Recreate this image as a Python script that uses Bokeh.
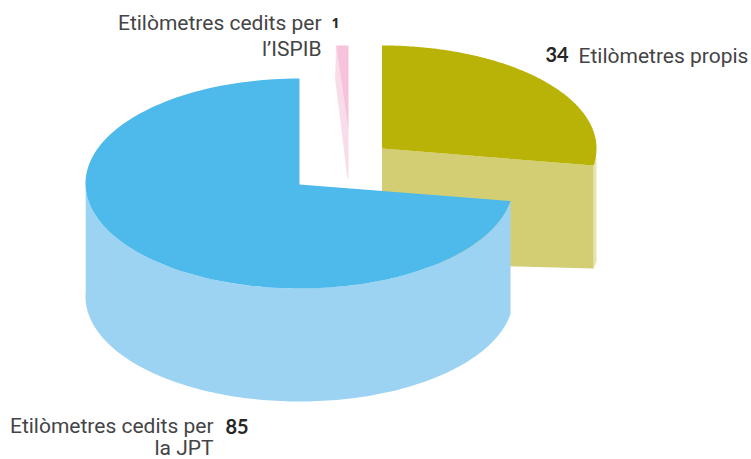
import math
from bokeh.plotting import figure
from bokeh.core.properties import value
from bokeh.embed import file_html
from bokeh.resources import INLINE

categories = ["Etilòmetres propis", "Etilòmetres cedits per la JPT", "Etilòmetres cedits per l’ISPIB"]
values = [34, 85, 1]
value_labels = ["34", "85", "1"]

W, H = 751, 459
p = figure(width=W, height=H, x_range=(0, W), y_range=(H, 0),
           output_backend="svg", toolbar_location=None, min_border=0,
           outline_line_color=None, background_fill_color="white", border_fill_color="white")
p.axis.visible = False
p.grid.visible = False

total = sum(values)
a0 = 0.0
a1 = a0 + values[0] / total * 360
a2 = a1 + values[1] / total * 360
a3 = a2 + values[2] / total * 360


def warp(t):
    return t - 2.5 * math.sin(math.radians(t))


def pt(cx, cy, rx, ry, t):
    f = math.radians(warp(t))
    return cx + rx * math.sin(f), cy - ry * math.cos(f)


def arc(cx, cy, rx, ry, t0, t1, n=140):
    pts = [pt(cx, cy, rx, ry, t0 + (t1 - t0) * i / n) for i in range(n + 1)]
    return [q[0] for q in pts], [q[1] for q in pts]


def poly(xs, ys, color):
    p.patch(xs, ys, fill_color=color, line_color=None)


# --- yellow slice (34)
Y = dict(cx=381.5, cy=148, rx=214.5, ry=103)
yx, yy = arc(Y["cx"], Y["cy"], Y["rx"], Y["ry"], a0, a1)
xend, yend = yx[-1], yy[-1]
xmax = max(yx)
poly([xend, xmax, xmax, xend], [yend - 8, yend - 8, yend + 96, yend + 103], "#E6E3AC")
poly([Y["cx"], xend, xend, Y["cx"]], [Y["cy"], yend, yend + 103, Y["cy"] + 114], "#D3CE73")
poly([Y["cx"]] + yx, [Y["cy"]] + yy, "#B8B306")

# --- pink slice (1)
K = dict(cx=348, cy=130, rx=248, ry=85)
kx, ky = arc(K["cx"], K["cy"], K["rx"], K["ry"], a2, a3, n=6)
poly([kx[0], kx[0] - 1, K["cx"] - 1, K["cx"], K["cx"]], [ky[0], ky[0] + 33, K["cy"] + 48, K["cy"] + 48, K["cy"]], "#F9DCE9")
poly([K["cx"]] + kx, [K["cy"]] + ky, "#F6C3DB")

# --- blue slice (85); the pink sliver is exploded, so the blue closes the circle
B = dict(cx=299, cy=183, rx=214, ry=105)
DEPTH = 113
bx, by = arc(B["cx"], B["cy"], B["rx"], B["ry"], a1, a3)
wx, wy = arc(B["cx"], B["cy"], B["rx"], B["ry"], a1, 270)
poly(wx + wx[::-1], wy + [q + DEPTH for q in wy[::-1]], "#9DD3F2")
poly([B["cx"]] + bx, [B["cy"] + 1] + by, "#4EBAEB")

# --- labels
LIGHT = "#444446"
DARK = "#262626"
SIZE = 21


def label(x, y, t, size, color, align="right", font="Roboto", style="normal"):
    p.text([x], [y], text=[t], text_font=value(font), text_font_size=f"{size}px",
           text_color=color, text_align=align, text_baseline="alphabetic", text_font_style=style)


label(321, 22, "Etilòmetres cedits per", SIZE, LIGHT)
label(321, 48, "l’ISPIB", SIZE, LIGHT)
label(335, 22, value_labels[2], 14, DARK, "center", "Open Sans", "bold")
label(578, 55, "Etilòmetres propis", SIZE, LIGHT, "left")
label(545, 54, value_labels[0], 20, DARK, "left", "Lato", "bold")
label(213, 425, "Etilòmetres cedits per", SIZE, LIGHT)
label(213, 447, "la JPT", SIZE, LIGHT)
label(225, 426, value_labels[1], 20, DARK, "left", "Lato", "bold")

open("out.html", "w").write(file_html(p, INLINE))
